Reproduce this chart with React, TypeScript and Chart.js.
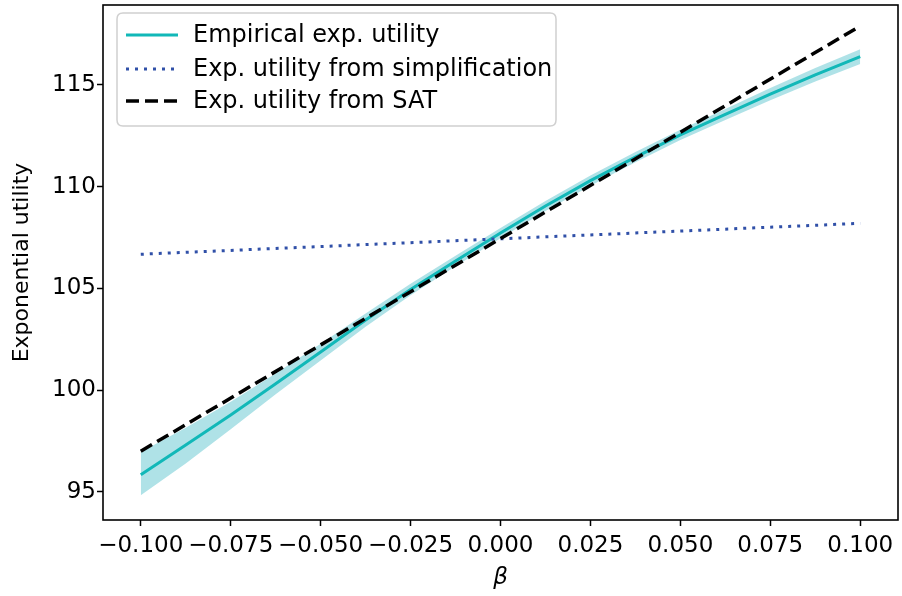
import React, { useEffect, useRef } from "react";
import { Chart, registerables } from "chart.js";

Chart.register(...registerables);

// ---- data ----
const betaValues = [-0.1, -0.0875, -0.075, -0.0625, -0.05, -0.0375, -0.025, -0.0125, 0, 0.0125, 0.025, 0.0375, 0.05, 0.0625, 0.075, 0.0875, 0.1];
const empiricalValues = [95.84, 97.3, 98.78, 100.32, 101.88, 103.45, 104.95, 106.35, 107.72, 109.05, 110.3, 111.45, 112.55, 113.55, 114.55, 115.5, 116.39];
const empiricalUpper = [96.96, 98.15, 99.43, 100.82, 102.28, 103.77, 105.23, 106.61, 107.97, 109.3, 110.55, 111.7, 112.8, 113.82, 114.85, 115.83, 116.75];
const empiricalLower = [94.84, 96.4, 98.08, 99.8, 101.46, 103.12, 104.67, 106.09, 107.47, 108.8, 110.05, 111.2, 112.3, 113.28, 114.25, 115.17, 116.03];
const simpBeta = [-0.1, 0.1];
const simpValues = [106.68, 108.2];
const satBeta = [-0.1, 0.1];
const satValues = [97.0, 117.9];

const xTickValues = [-0.1, -0.075, -0.05, -0.025, 0, 0.025, 0.05, 0.075, 0.1];
const xTickLabels = ["\u22120.100", "\u22120.075", "\u22120.050", "\u22120.025", "0.000", "0.025", "0.050", "0.075", "0.100"];
const yTickValues = [95, 100, 105, 110, 115];
const yTickLabels = ["95", "100", "105", "110", "115"];

const legendLabels = ["Empirical exp. utility", "Exp. utility from simplification", "Exp. utility from SAT"];
const xTitle = "\u03b2";
const yTitle = "Exponential utility";

const CYAN = "#11b8b8";
const BAND = "rgba(20,170,185,0.34)";
const BLUE = "#3050a8";
const FONT = "'DejaVu Sans', sans-serif";

const toPts = (xs: number[], ys: number[]) => xs.map((x, i) => ({ x, y: ys[i] }));

const framePlugin = {
  id: "frame",
  afterDraw(chart: any) {
    const { ctx, chartArea: a } = chart;
    ctx.save();
    ctx.strokeStyle = "#000";
    ctx.lineWidth = 1.6;
    ctx.strokeRect(a.left, a.top, a.right - a.left, a.bottom - a.top);

    // legend
    const lx = a.left + 14;
    const ly = a.top + 8;
    const lw = 439;
    const lh = 113;
    const r = 6;
    ctx.beginPath();
    ctx.moveTo(lx + r, ly);
    ctx.lineTo(lx + lw - r, ly);
    ctx.quadraticCurveTo(lx + lw, ly, lx + lw, ly + r);
    ctx.lineTo(lx + lw, ly + lh - r);
    ctx.quadraticCurveTo(lx + lw, ly + lh, lx + lw - r, ly + lh);
    ctx.lineTo(lx + r, ly + lh);
    ctx.quadraticCurveTo(lx, ly + lh, lx, ly + lh - r);
    ctx.lineTo(lx, ly + r);
    ctx.quadraticCurveTo(lx, ly, lx + r, ly);
    ctx.closePath();
    ctx.fillStyle = "rgba(255,255,255,0.85)";
    ctx.fill();
    ctx.strokeStyle = "#d0d0d0";
    ctx.lineWidth = 1.5;
    ctx.stroke();

    const rows = [ly + 22, ly + 56, ly + 88];
    const styles = [
      { color: CYAN, dash: [] as number[], width: 3 },
      { color: BLUE, dash: [3, 6], width: 3 },
      { color: "#000", dash: [13, 6], width: 3.5 },
    ];
    ctx.font = `24px ${FONT}`;
    ctx.textBaseline = "middle";
    legendLabels.forEach((t, i) => {
      const s = styles[i];
      ctx.beginPath();
      ctx.setLineDash(s.dash);
      ctx.strokeStyle = s.color;
      ctx.lineWidth = s.width;
      ctx.lineCap = "butt";
      ctx.moveTo(lx + 9, rows[i]);
      ctx.lineTo(lx + 61, rows[i]);
      ctx.stroke();
      ctx.setLineDash([]);
      ctx.fillStyle = "#000";
      ctx.fillText(t, lx + 76, rows[i] + 1);
    });
    ctx.restore();
  },
};

export default function App() {
  const ref = useRef<HTMLCanvasElement>(null);
  useEffect(() => {
    if (!ref.current) return;
    const chart = new Chart(ref.current, {
      type: "line",
      data: {
        datasets: [
          {
            data: toPts(satBeta, satValues),
            borderColor: "#000",
            borderWidth: 3.5,
            borderDash: [13, 6],
            pointRadius: 0,
            fill: false,
            order: 0,
          },
          {
            data: toPts(simpBeta, simpValues),
            borderColor: BLUE,
            borderWidth: 3,
            borderDash: [3, 6],
            pointRadius: 0,
            fill: false,
            order: 1,
          },
          {
            data: toPts(betaValues, empiricalValues),
            borderColor: CYAN,
            borderWidth: 3,
            pointRadius: 0,
            fill: false,
            order: 2,
          },
          {
            data: toPts(betaValues, empiricalUpper),
            borderColor: "rgba(0,0,0,0)",
            borderWidth: 0,
            pointRadius: 0,
            fill: false,
            order: 3,
          },
          {
            data: toPts(betaValues, empiricalLower),
            borderColor: "rgba(0,0,0,0)",
            borderWidth: 0,
            pointRadius: 0,
            backgroundColor: BAND,
            fill: "-1",
            order: 4,
          },
        ],
      },
      options: {
        animation: false,
        responsive: false,
        layout: { padding: { left: 0, right: 4, top: 5, bottom: 0 } },
        plugins: { legend: { display: false }, tooltip: { enabled: false } },
        scales: {
          x: {
            type: "linear",
            min: -0.1105,
            max: 0.1105,
            border: { display: false },
            grid: { drawOnChartArea: false, drawTicks: true, tickLength: 6, tickColor: "#000", tickWidth: 1.5 },
            ticks: {
              autoSkip: false,
              maxRotation: 0,
              padding: 6,
              color: "#000",
              font: { family: FONT, size: 23 },
              callback: (v: any) => {
                const i = xTickValues.findIndex((t) => Math.abs(t - v) < 1e-9);
                return i >= 0 ? xTickLabels[i] : "";
              },
            },
            afterBuildTicks: (s: any) => {
              s.ticks = xTickValues.map((value) => ({ value }));
            },
            afterFit: (s: any) => {
              s.height = 76;
              s.paddingLeft = 0;
              s.paddingRight = 0;
            },
            title: {
              display: true,
              text: xTitle,
              color: "#000",
              font: { family: FONT, size: 23, style: "italic" },
              padding: { top: 0, bottom: 4 },
            },
          },
          y: {
            type: "linear",
            min: 93.62,
            max: 118.93,
            border: { display: false },
            grid: { drawOnChartArea: false, drawTicks: true, tickLength: 6, tickColor: "#000", tickWidth: 1.5 },
            ticks: {
              padding: 1,
              color: "#000",
              font: { family: FONT, size: 23 },
              callback: (v: any) => {
                const i = yTickValues.findIndex((t) => Math.abs(t - v) < 1e-9);
                return i >= 0 ? yTickLabels[i] : "";
              },
            },
            afterBuildTicks: (s: any) => {
              s.ticks = yTickValues.map((value) => ({ value }));
            },
            afterFit: (s: any) => {
              s.width = 103;
              s.paddingTop = 0;
              s.paddingBottom = 0;
            },
            title: {
              display: true,
              text: yTitle,
              color: "#000",
              font: { family: FONT, size: 22 },
              padding: { top: 9, bottom: 0 },
            },
          },
        },
      },
      plugins: [framePlugin],
    });
    return () => chart.destroy();
  }, []);
  return (
    <div style={{ position: "fixed", left: 0, top: 0, width: 902, height: 596, background: "#fff" }}>
      <canvas ref={ref} width={902} height={596} style={{ width: 902, height: 596, display: "block" }} />
    </div>
  );
}
